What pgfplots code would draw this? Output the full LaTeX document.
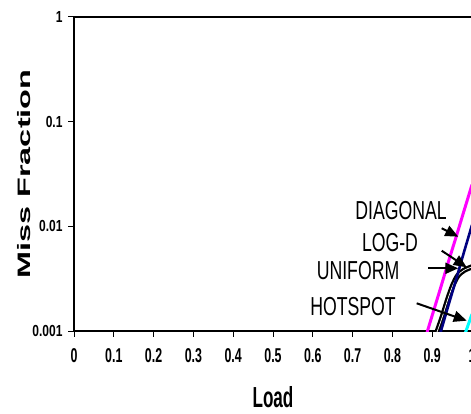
\documentclass[border=0pt]{standalone}
\usepackage{pgfplots}
\pgfplotsset{compat=1.18}
\usepackage{fontspec}
\usepackage{graphicx}
\setmainfont{Liberation Sans}
\usetikzlibrary{arrows.meta}
\definecolor{mag}{RGB}{255,0,255}
\definecolor{cy}{RGB}{0,255,255}
\definecolor{nav}{RGB}{0,0,128}
\newcommand\xtl[1]{\scalebox{0.62}[1]{\fontsize{20}{20}\selectfont\bfseries #1}}
\newcommand\ytl[1]{\scalebox{0.75}[1]{\fontsize{16}{16}\selectfont\bfseries #1}}
\newcommand\ann[1]{\scalebox{0.68}[1]{\fontsize{26}{26}\selectfont #1}}
\begin{document}
\begin{tikzpicture}
\useasboundingbox (0,0) rectangle (471pt,414pt);
\clip (0,0) rectangle (471pt,414pt);
\begin{axis}[
  at={(74pt,83pt)}, anchor=south west,
  scale only axis, width=398pt, height=314pt,
  xmin=0, xmax=1, ymode=log, ymin=0.001, ymax=1,
  axis line style={line width=1.6pt},
  xtick={0,0.1,0.2,0.3,0.4,0.5,0.6,0.7,0.8,0.9,1},
  xticklabels={\xtl{0},\xtl{0.1},\xtl{0.2},\xtl{0.3},\xtl{0.4},\xtl{0.5},\xtl{0.6},\xtl{0.7},\xtl{0.8},\xtl{0.9},\xtl{1}},
  ytick={0.001,0.01,0.1,1},
  yticklabels={\ytl{0.001},\ytl{0.01},\ytl{0.1},\ytl{1}},
  minor ytick={},
  xtick pos=bottom, ytick pos=left,
  tick align=outside, major tick length=6pt,
  tick style={black, line width=1pt},
  minor tick length=0pt,
  xticklabel style={yshift=-8pt},
  yticklabel style={xshift=-2pt},
  xlabel={\scalebox{0.59}[1]{\fontsize{29}{29}\selectfont\bfseries Load}},
  xlabel style={yshift=-17pt},
  ylabel={\scalebox{1.8}[1]{\fontsize{18}{18}\selectfont\bfseries Miss Fraction}},
  ylabel style={yshift=-5pt},
]
\addplot[black, line width=2.3pt, double=white, double distance=0.7pt, smooth] coordinates {
(0.908,0.00090) (0.913,0.0010) (0.925,0.00135) (0.94,0.00205) (0.953,0.0028) (0.965,0.0034) (0.98,0.0038) (1.0,0.0041)};
\addplot[nav, line width=2.6pt] coordinates {
(0.92,0.00094) (0.94,0.00172) (0.96,0.0031) (0.98,0.0057) (1.0,0.0103)};
\addplot[mag, line width=3pt] coordinates {
(0.88,0.00079) (0.90,0.00141) (0.92,0.0025) (0.94,0.0045) (0.96,0.0079) (0.98,0.0141) (1.0,0.025)};
\addplot[cy, line width=3pt] coordinates {
(0.982,0.00093) (1.0,0.00145)};
\end{axis}
\node at (401pt,203pt) {\ann{DIAGONAL}};
\node at (390pt,171pt) {\ann{LOG-D}};
\node at (358pt,143pt) {\ann{UNIFORM}};
\node at (353pt,107pt) {\ann{HOTSPOT}};
\begin{scope}[line width=2pt, -{Triangle[length=13pt,width=11pt]}]
\draw (441.7pt,185.7pt) -- (458.3pt,177.3pt);
\draw (441.7pt,163.3pt) -- (466.7pt,146.7pt);
\draw (428.3pt,145.7pt) -- (458.3pt,145.7pt);
\draw (416.7pt,110.7pt) -- (466.7pt,93.3pt);
\end{scope}
\end{tikzpicture}
\end{document}
